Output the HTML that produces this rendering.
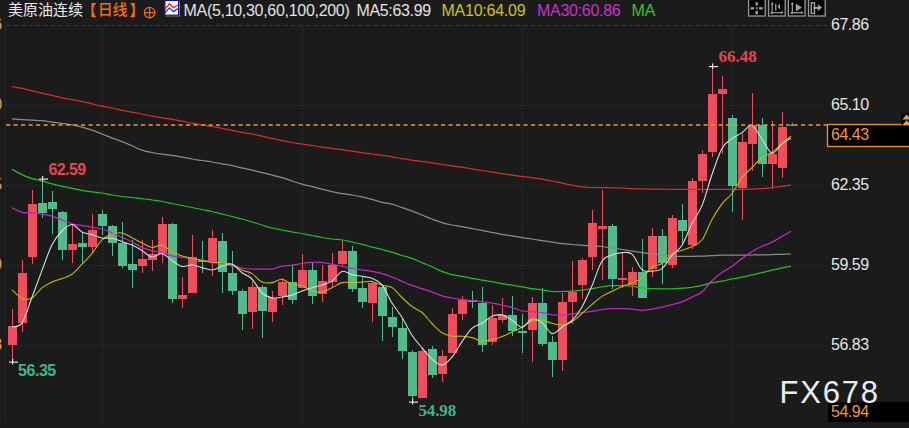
<!DOCTYPE html>
<html><head><meta charset="utf-8">
<style>
html,body{margin:0;padding:0;background:#1b1b1b;}
body{width:909px;height:428px;overflow:hidden;position:relative;font-family:'Liberation Sans', Arial, sans-serif;}
.t{position:absolute;white-space:nowrap;line-height:1;}
svg{position:absolute;left:0;top:0;}
.ax{position:absolute;left:831px;white-space:nowrap;line-height:1;font-size:16px;letter-spacing:-0.5px;color:#e4e4e4;}
</style></head>
<body>
<svg width="909" height="428" viewBox="0 0 909 428">
<rect width="909" height="428" fill="#1b1b1b"/>
<line x1="6" y1="25.5" x2="827" y2="25.5" stroke="#3a3a3a" stroke-width="1" stroke-dasharray="4.2,3.3"/>
<line x1="6" y1="105.5" x2="827" y2="105.5" stroke="#383838" stroke-width="1" stroke-dasharray="1.2,2.53"/>
<line x1="6" y1="185.5" x2="827" y2="185.5" stroke="#383838" stroke-width="1" stroke-dasharray="1.2,2.53"/>
<line x1="6" y1="265.5" x2="827" y2="265.5" stroke="#383838" stroke-width="1" stroke-dasharray="1.2,2.53"/>
<line x1="6" y1="345.5" x2="827" y2="345.5" stroke="#383838" stroke-width="1" stroke-dasharray="1.2,2.53"/>
<line x1="102.5" y1="26" x2="102.5" y2="423" stroke="#383838" stroke-width="1" stroke-dasharray="1.2,2.53"/>
<line x1="302.5" y1="26" x2="302.5" y2="423" stroke="#383838" stroke-width="1" stroke-dasharray="1.2,2.53"/>
<line x1="522.5" y1="26" x2="522.5" y2="423" stroke="#383838" stroke-width="1" stroke-dasharray="1.2,2.53"/>
<line x1="732.5" y1="26" x2="732.5" y2="423" stroke="#383838" stroke-width="1" stroke-dasharray="1.2,2.53"/>
<line x1="5.5" y1="26" x2="5.5" y2="423" stroke="#242424" stroke-width="1"/>
<rect x="12" y="309.0" width="1" height="52.0" fill="#ec4e5e"/>
<rect x="8" y="326.0" width="9" height="19.0" fill="#ec4e5e"/>
<rect x="22" y="260.0" width="1" height="72.0" fill="#ec4e5e"/>
<rect x="18" y="273.0" width="9" height="50.0" fill="#ec4e5e"/>
<rect x="32" y="190.0" width="1" height="74.0" fill="#ec4e5e"/>
<rect x="28" y="204.0" width="9" height="53.0" fill="#ec4e5e"/>
<rect x="42" y="177.0" width="1" height="41.0" fill="#52bb8d"/>
<rect x="38" y="203.0" width="9" height="10.0" fill="#52bb8d"/>
<rect x="52" y="191.0" width="1" height="43.0" fill="#52bb8d"/>
<rect x="48" y="202.0" width="9" height="7.0" fill="#52bb8d"/>
<rect x="62" y="211.0" width="1" height="49.0" fill="#52bb8d"/>
<rect x="58" y="212.0" width="9" height="38.0" fill="#52bb8d"/>
<rect x="72" y="224.0" width="1" height="39.0" fill="#ec4e5e"/>
<rect x="68" y="244.0" width="9" height="6.0" fill="#ec4e5e"/>
<rect x="82" y="232.0" width="1" height="31.0" fill="#52bb8d"/>
<rect x="78" y="243.0" width="9" height="4.0" fill="#52bb8d"/>
<rect x="92" y="214.0" width="1" height="39.0" fill="#ec4e5e"/>
<rect x="88" y="230.0" width="9" height="17.0" fill="#ec4e5e"/>
<rect x="102" y="210.0" width="1" height="25.0" fill="#52bb8d"/>
<rect x="98" y="214.0" width="9" height="12.0" fill="#52bb8d"/>
<rect x="112" y="225.0" width="1" height="31.0" fill="#52bb8d"/>
<rect x="108" y="226.0" width="9" height="17.0" fill="#52bb8d"/>
<rect x="122" y="222.0" width="1" height="46.0" fill="#52bb8d"/>
<rect x="118" y="243.0" width="9" height="23.0" fill="#52bb8d"/>
<rect x="132" y="240.0" width="1" height="48.0" fill="#52bb8d"/>
<rect x="128" y="264.0" width="9" height="6.0" fill="#52bb8d"/>
<rect x="142" y="240.0" width="1" height="33.0" fill="#ec4e5e"/>
<rect x="138" y="259.0" width="9" height="7.0" fill="#ec4e5e"/>
<rect x="152" y="240.0" width="1" height="31.0" fill="#ec4e5e"/>
<rect x="148" y="254.0" width="9" height="6.0" fill="#ec4e5e"/>
<rect x="162" y="217.0" width="1" height="46.0" fill="#ec4e5e"/>
<rect x="158" y="224.0" width="9" height="30.0" fill="#ec4e5e"/>
<rect x="172" y="223.0" width="1" height="80.0" fill="#52bb8d"/>
<rect x="168" y="224.0" width="9" height="75.0" fill="#52bb8d"/>
<rect x="182" y="277.0" width="1" height="31.0" fill="#ec4e5e"/>
<rect x="178" y="295.0" width="9" height="4.0" fill="#ec4e5e"/>
<rect x="192" y="235.0" width="1" height="58.0" fill="#ec4e5e"/>
<rect x="188" y="257.0" width="9" height="36.0" fill="#ec4e5e"/>
<rect x="202" y="241.0" width="1" height="32.0" fill="#52bb8d"/>
<rect x="198" y="260.0" width="9" height="2.0" fill="#52bb8d"/>
<rect x="212" y="230.0" width="1" height="46.0" fill="#ec4e5e"/>
<rect x="208" y="238.0" width="9" height="24.0" fill="#ec4e5e"/>
<rect x="222" y="233.0" width="1" height="60.0" fill="#52bb8d"/>
<rect x="218" y="241.0" width="9" height="31.0" fill="#52bb8d"/>
<rect x="232" y="251.0" width="1" height="44.0" fill="#52bb8d"/>
<rect x="228" y="273.0" width="9" height="18.0" fill="#52bb8d"/>
<rect x="242" y="289.0" width="1" height="41.0" fill="#52bb8d"/>
<rect x="238" y="291.0" width="9" height="23.0" fill="#52bb8d"/>
<rect x="252" y="281.0" width="1" height="48.0" fill="#ec4e5e"/>
<rect x="248" y="287.0" width="9" height="25.0" fill="#ec4e5e"/>
<rect x="262" y="285.0" width="1" height="53.0" fill="#52bb8d"/>
<rect x="258" y="287.0" width="9" height="24.0" fill="#52bb8d"/>
<rect x="272" y="291.0" width="1" height="31.0" fill="#ec4e5e"/>
<rect x="268" y="298.0" width="9" height="14.0" fill="#ec4e5e"/>
<rect x="282" y="278.0" width="1" height="27.0" fill="#ec4e5e"/>
<rect x="278" y="282.0" width="9" height="14.0" fill="#ec4e5e"/>
<rect x="292" y="265.0" width="1" height="39.0" fill="#52bb8d"/>
<rect x="288" y="282.0" width="9" height="18.0" fill="#52bb8d"/>
<rect x="302" y="254.0" width="1" height="34.0" fill="#ec4e5e"/>
<rect x="298" y="270.0" width="9" height="18.0" fill="#ec4e5e"/>
<rect x="312" y="263.0" width="1" height="41.0" fill="#52bb8d"/>
<rect x="308" y="270.0" width="9" height="26.0" fill="#52bb8d"/>
<rect x="322" y="265.0" width="1" height="37.0" fill="#ec4e5e"/>
<rect x="318" y="281.0" width="9" height="13.0" fill="#ec4e5e"/>
<rect x="332" y="253.0" width="1" height="34.0" fill="#ec4e5e"/>
<rect x="328" y="265.0" width="9" height="17.0" fill="#ec4e5e"/>
<rect x="342" y="241.0" width="1" height="24.0" fill="#ec4e5e"/>
<rect x="338" y="251.0" width="9" height="13.0" fill="#ec4e5e"/>
<rect x="352" y="246.0" width="1" height="46.0" fill="#52bb8d"/>
<rect x="348" y="251.0" width="9" height="38.0" fill="#52bb8d"/>
<rect x="362" y="278.0" width="1" height="30.0" fill="#52bb8d"/>
<rect x="358" y="288.0" width="9" height="14.0" fill="#52bb8d"/>
<rect x="372" y="281.0" width="1" height="41.0" fill="#ec4e5e"/>
<rect x="368" y="283.0" width="9" height="20.0" fill="#ec4e5e"/>
<rect x="382" y="286.0" width="1" height="55.0" fill="#52bb8d"/>
<rect x="378" y="287.0" width="9" height="29.0" fill="#52bb8d"/>
<rect x="392" y="307.0" width="1" height="30.0" fill="#52bb8d"/>
<rect x="388" y="317.0" width="9" height="10.0" fill="#52bb8d"/>
<rect x="402" y="318.0" width="1" height="41.0" fill="#52bb8d"/>
<rect x="398" y="328.0" width="9" height="23.0" fill="#52bb8d"/>
<rect x="412" y="350.0" width="1" height="51.0" fill="#52bb8d"/>
<rect x="408" y="352.0" width="9" height="44.0" fill="#52bb8d"/>
<rect x="422" y="347.0" width="1" height="51.0" fill="#ec4e5e"/>
<rect x="418" y="351.0" width="9" height="47.0" fill="#ec4e5e"/>
<rect x="432" y="346.0" width="1" height="32.0" fill="#52bb8d"/>
<rect x="428" y="349.0" width="9" height="26.0" fill="#52bb8d"/>
<rect x="442" y="350.0" width="1" height="32.0" fill="#ec4e5e"/>
<rect x="438" y="356.0" width="9" height="18.0" fill="#ec4e5e"/>
<rect x="452" y="308.0" width="1" height="45.0" fill="#ec4e5e"/>
<rect x="448" y="314.0" width="9" height="39.0" fill="#ec4e5e"/>
<rect x="462" y="296.0" width="1" height="24.0" fill="#ec4e5e"/>
<rect x="458" y="300.0" width="9" height="14.0" fill="#ec4e5e"/>
<rect x="472" y="291.0" width="1" height="17.0" fill="#52bb8d"/>
<rect x="468" y="300.0" width="9" height="2.0" fill="#52bb8d"/>
<rect x="482" y="287.0" width="1" height="65.0" fill="#52bb8d"/>
<rect x="478" y="303.0" width="9" height="42.0" fill="#52bb8d"/>
<rect x="492" y="305.0" width="1" height="40.0" fill="#ec4e5e"/>
<rect x="488" y="318.0" width="9" height="24.0" fill="#ec4e5e"/>
<rect x="502" y="298.0" width="1" height="25.0" fill="#ec4e5e"/>
<rect x="498" y="315.0" width="9" height="5.0" fill="#ec4e5e"/>
<rect x="512" y="296.0" width="1" height="40.0" fill="#52bb8d"/>
<rect x="508" y="315.0" width="9" height="16.0" fill="#52bb8d"/>
<rect x="522" y="314.0" width="1" height="39.0" fill="#52bb8d"/>
<rect x="518" y="331.0" width="9" height="2.0" fill="#52bb8d"/>
<rect x="532" y="297.0" width="1" height="65.0" fill="#ec4e5e"/>
<rect x="528" y="303.0" width="9" height="27.0" fill="#ec4e5e"/>
<rect x="542" y="288.0" width="1" height="58.0" fill="#52bb8d"/>
<rect x="538" y="303.0" width="9" height="41.0" fill="#52bb8d"/>
<rect x="552" y="336.0" width="1" height="41.0" fill="#52bb8d"/>
<rect x="548" y="342.0" width="9" height="18.0" fill="#52bb8d"/>
<rect x="562" y="293.0" width="1" height="78.0" fill="#ec4e5e"/>
<rect x="558" y="302.0" width="9" height="58.0" fill="#ec4e5e"/>
<rect x="572" y="261.0" width="1" height="63.0" fill="#ec4e5e"/>
<rect x="568" y="292.0" width="9" height="10.0" fill="#ec4e5e"/>
<rect x="582" y="258.0" width="1" height="41.0" fill="#ec4e5e"/>
<rect x="578" y="260.0" width="9" height="25.0" fill="#ec4e5e"/>
<rect x="592" y="210.0" width="1" height="60.0" fill="#ec4e5e"/>
<rect x="588" y="223.0" width="9" height="34.0" fill="#ec4e5e"/>
<rect x="602" y="190.0" width="1" height="90.0" fill="#ec4e5e"/>
<rect x="598" y="226.0" width="9" height="3.0" fill="#ec4e5e"/>
<rect x="612" y="224.0" width="1" height="65.0" fill="#52bb8d"/>
<rect x="608" y="226.0" width="9" height="53.0" fill="#52bb8d"/>
<rect x="622" y="253.0" width="1" height="35.0" fill="#ec4e5e"/>
<rect x="618" y="278.0" width="9" height="2.0" fill="#ec4e5e"/>
<rect x="632" y="267.0" width="1" height="29.0" fill="#ec4e5e"/>
<rect x="628" y="272.0" width="9" height="13.0" fill="#ec4e5e"/>
<rect x="642" y="239.0" width="1" height="59.0" fill="#52bb8d"/>
<rect x="638" y="272.0" width="9" height="26.0" fill="#52bb8d"/>
<rect x="652" y="228.0" width="1" height="49.0" fill="#ec4e5e"/>
<rect x="648" y="236.0" width="9" height="33.0" fill="#ec4e5e"/>
<rect x="662" y="229.0" width="1" height="55.0" fill="#52bb8d"/>
<rect x="658" y="236.0" width="9" height="27.0" fill="#52bb8d"/>
<rect x="672" y="215.0" width="1" height="53.0" fill="#ec4e5e"/>
<rect x="668" y="218.0" width="9" height="47.0" fill="#ec4e5e"/>
<rect x="682" y="204.0" width="1" height="41.0" fill="#52bb8d"/>
<rect x="678" y="220.0" width="9" height="11.0" fill="#52bb8d"/>
<rect x="692" y="178.0" width="1" height="71.0" fill="#ec4e5e"/>
<rect x="688" y="181.0" width="9" height="64.0" fill="#ec4e5e"/>
<rect x="702" y="150.0" width="1" height="43.0" fill="#ec4e5e"/>
<rect x="698" y="154.0" width="9" height="27.0" fill="#ec4e5e"/>
<rect x="712" y="66.0" width="1" height="91.0" fill="#ec4e5e"/>
<rect x="708" y="94.0" width="9" height="58.0" fill="#ec4e5e"/>
<rect x="722" y="76.0" width="1" height="78.0" fill="#ec4e5e"/>
<rect x="718" y="89.0" width="9" height="5.0" fill="#ec4e5e"/>
<rect x="732" y="115.0" width="1" height="97.0" fill="#52bb8d"/>
<rect x="728" y="118.0" width="9" height="68.0" fill="#52bb8d"/>
<rect x="742" y="133.0" width="1" height="87.0" fill="#ec4e5e"/>
<rect x="738" y="142.0" width="9" height="46.0" fill="#ec4e5e"/>
<rect x="752" y="93.0" width="1" height="78.0" fill="#ec4e5e"/>
<rect x="748" y="125.0" width="9" height="19.0" fill="#ec4e5e"/>
<rect x="762" y="118.0" width="1" height="59.0" fill="#52bb8d"/>
<rect x="758" y="125.0" width="9" height="39.0" fill="#52bb8d"/>
<rect x="772" y="121.0" width="1" height="68.0" fill="#ec4e5e"/>
<rect x="768" y="154.0" width="9" height="10.0" fill="#ec4e5e"/>
<rect x="782" y="112.0" width="1" height="66.0" fill="#ec4e5e"/>
<rect x="778" y="127.0" width="9" height="41.0" fill="#ec4e5e"/>
<path d="M12.00,86.50 C13.67,86.82 18.67,87.68 22.00,88.40 C25.33,89.12 28.67,90.02 32.00,90.80 C35.33,91.58 38.67,92.35 42.00,93.10 C45.33,93.85 48.67,94.52 52.00,95.30 C55.33,96.08 58.67,97.08 62.00,97.80 C65.33,98.52 68.67,98.98 72.00,99.60 C75.33,100.22 78.67,100.78 82.00,101.50 C85.33,102.22 88.67,103.12 92.00,103.90 C95.33,104.68 98.67,105.52 102.00,106.20 C105.33,106.88 108.67,107.32 112.00,108.00 C115.33,108.68 118.67,109.62 122.00,110.30 C125.33,110.98 128.67,111.48 132.00,112.10 C135.33,112.72 138.67,113.32 142.00,114.00 C145.33,114.68 148.67,115.57 152.00,116.20 C155.33,116.83 158.67,117.28 162.00,117.80 C165.33,118.32 168.67,118.73 172.00,119.30 C175.33,119.87 178.67,120.55 182.00,121.20 C185.33,121.85 188.67,122.60 192.00,123.20 C195.33,123.80 198.67,124.27 202.00,124.80 C205.33,125.33 208.67,125.82 212.00,126.40 C215.33,126.98 218.67,127.63 222.00,128.30 C225.33,128.97 228.67,129.73 232.00,130.40 C235.33,131.07 238.67,131.70 242.00,132.30 C245.33,132.90 248.67,133.35 252.00,134.00 C255.33,134.65 258.67,135.47 262.00,136.20 C265.33,136.93 268.67,137.67 272.00,138.40 C275.33,139.13 278.67,139.92 282.00,140.60 C285.33,141.28 288.67,141.93 292.00,142.50 C295.33,143.07 298.67,143.50 302.00,144.00 C305.33,144.50 308.67,144.97 312.00,145.50 C315.33,146.03 318.67,146.72 322.00,147.20 C325.33,147.68 328.67,147.98 332.00,148.40 C335.33,148.82 338.67,149.23 342.00,149.70 C345.33,150.17 348.67,150.70 352.00,151.20 C355.33,151.70 358.67,152.23 362.00,152.70 C365.33,153.17 368.67,153.57 372.00,154.00 C375.33,154.43 378.67,154.83 382.00,155.30 C385.33,155.77 388.67,156.23 392.00,156.80 C395.33,157.37 398.67,158.13 402.00,158.70 C405.33,159.27 408.67,159.73 412.00,160.20 C415.33,160.67 418.67,161.07 422.00,161.50 C425.33,161.93 428.67,162.30 432.00,162.80 C435.33,163.30 438.67,164.00 442.00,164.50 C445.33,165.00 448.67,165.35 452.00,165.80 C455.33,166.25 458.67,166.68 462.00,167.20 C465.33,167.72 468.67,168.35 472.00,168.90 C475.33,169.45 478.67,169.97 482.00,170.50 C485.33,171.03 488.67,171.58 492.00,172.10 C495.33,172.62 498.67,173.08 502.00,173.60 C505.33,174.12 508.67,174.73 512.00,175.20 C515.33,175.67 518.67,176.00 522.00,176.40 C525.33,176.80 528.67,177.13 532.00,177.60 C535.33,178.07 538.67,178.63 542.00,179.20 C545.33,179.77 548.67,180.33 552.00,181.00 C555.33,181.67 558.67,182.50 562.00,183.20 C565.33,183.90 568.67,184.60 572.00,185.20 C575.33,185.80 578.67,186.42 582.00,186.80 C585.33,187.18 588.67,187.37 592.00,187.50 C595.33,187.63 598.67,187.55 602.00,187.60 C605.33,187.65 608.67,187.73 612.00,187.80 C615.33,187.87 618.67,187.87 622.00,188.00 C625.33,188.13 628.67,188.45 632.00,188.60 C635.33,188.75 638.67,188.82 642.00,188.90 C645.33,188.98 648.67,189.05 652.00,189.10 C655.33,189.15 658.67,189.17 662.00,189.20 C665.33,189.23 668.67,189.27 672.00,189.30 C675.33,189.33 678.67,189.38 682.00,189.40 C685.33,189.42 688.67,189.40 692.00,189.40 C695.33,189.40 698.67,189.40 702.00,189.40 C705.33,189.40 708.67,189.40 712.00,189.40 C715.33,189.40 718.67,189.40 722.00,189.40 C725.33,189.40 728.67,189.40 732.00,189.40 C735.33,189.40 738.67,189.43 742.00,189.40 C745.33,189.37 748.67,189.33 752.00,189.20 C755.33,189.07 758.67,188.88 762.00,188.60 C765.33,188.32 768.67,187.88 772.00,187.50 C775.33,187.12 778.83,186.68 782.00,186.30 C785.17,185.92 789.50,185.38 791.00,185.20" fill="none" stroke="#dc2c2c" stroke-width="1.25" stroke-linejoin="round"/>
<path d="M12.00,118.90 C13.67,119.02 18.67,119.38 22.00,119.60 C25.33,119.82 28.67,120.02 32.00,120.20 C35.33,120.38 38.67,120.38 42.00,120.70 C45.33,121.02 48.67,121.65 52.00,122.10 C55.33,122.55 58.67,122.93 62.00,123.40 C65.33,123.87 68.67,124.28 72.00,124.90 C75.33,125.52 78.67,126.23 82.00,127.10 C85.33,127.97 88.67,128.95 92.00,130.10 C95.33,131.25 98.67,132.70 102.00,134.00 C105.33,135.30 108.67,136.62 112.00,137.90 C115.33,139.18 118.67,140.38 122.00,141.70 C125.33,143.02 128.67,144.38 132.00,145.80 C135.33,147.22 138.67,149.08 142.00,150.20 C145.33,151.32 148.67,151.83 152.00,152.50 C155.33,153.17 158.67,153.72 162.00,154.20 C165.33,154.68 168.67,154.92 172.00,155.40 C175.33,155.88 178.67,156.50 182.00,157.10 C185.33,157.70 188.67,158.43 192.00,159.00 C195.33,159.57 198.67,160.00 202.00,160.50 C205.33,161.00 208.67,161.45 212.00,162.00 C215.33,162.55 218.67,163.18 222.00,163.80 C225.33,164.42 228.67,165.02 232.00,165.70 C235.33,166.38 238.67,167.15 242.00,167.90 C245.33,168.65 248.67,169.42 252.00,170.20 C255.33,170.98 258.67,171.80 262.00,172.60 C265.33,173.40 268.67,174.15 272.00,175.00 C275.33,175.85 278.67,176.70 282.00,177.70 C285.33,178.70 288.67,179.92 292.00,181.00 C295.33,182.08 298.67,183.27 302.00,184.20 C305.33,185.13 308.67,185.77 312.00,186.60 C315.33,187.43 318.67,188.37 322.00,189.20 C325.33,190.03 328.67,190.87 332.00,191.60 C335.33,192.33 338.67,193.03 342.00,193.60 C345.33,194.17 348.67,194.47 352.00,195.00 C355.33,195.53 358.67,196.07 362.00,196.80 C365.33,197.53 368.67,198.47 372.00,199.40 C375.33,200.33 378.67,201.60 382.00,202.40 C385.33,203.20 388.67,203.33 392.00,204.20 C395.33,205.07 398.67,206.45 402.00,207.60 C405.33,208.75 408.67,209.87 412.00,211.10 C415.33,212.33 418.67,213.68 422.00,215.00 C425.33,216.32 428.67,217.73 432.00,219.00 C435.33,220.27 438.67,221.60 442.00,222.60 C445.33,223.60 448.67,224.33 452.00,225.00 C455.33,225.67 458.67,226.00 462.00,226.60 C465.33,227.20 468.67,227.97 472.00,228.60 C475.33,229.23 478.67,229.77 482.00,230.40 C485.33,231.03 488.67,231.75 492.00,232.40 C495.33,233.05 498.67,233.72 502.00,234.30 C505.33,234.88 508.67,235.35 512.00,235.90 C515.33,236.45 518.67,237.08 522.00,237.60 C525.33,238.12 528.67,238.50 532.00,239.00 C535.33,239.50 538.67,240.07 542.00,240.60 C545.33,241.13 548.67,241.70 552.00,242.20 C555.33,242.70 558.67,243.22 562.00,243.60 C565.33,243.98 568.67,244.23 572.00,244.50 C575.33,244.77 578.67,244.95 582.00,245.20 C585.33,245.45 588.67,245.78 592.00,246.00 C595.33,246.22 598.67,246.18 602.00,246.50 C605.33,246.82 608.67,247.40 612.00,247.90 C615.33,248.40 618.67,248.95 622.00,249.50 C625.33,250.05 628.67,250.68 632.00,251.20 C635.33,251.72 638.67,252.20 642.00,252.60 C645.33,253.00 648.67,253.17 652.00,253.60 C655.33,254.03 658.67,254.78 662.00,255.20 C665.33,255.62 668.67,255.90 672.00,256.10 C675.33,256.30 678.67,256.35 682.00,256.40 C685.33,256.45 688.67,256.43 692.00,256.40 C695.33,256.37 698.67,256.33 702.00,256.20 C705.33,256.07 708.67,255.77 712.00,255.60 C715.33,255.43 718.67,255.28 722.00,255.20 C725.33,255.12 728.67,255.12 732.00,255.10 C735.33,255.08 738.67,255.12 742.00,255.10 C745.33,255.08 748.67,255.03 752.00,255.00 C755.33,254.97 758.67,254.97 762.00,254.90 C765.33,254.83 768.67,254.70 772.00,254.60 C775.33,254.50 778.83,254.40 782.00,254.30 C785.17,254.20 789.50,254.05 791.00,254.00" fill="none" stroke="#8c8c8c" stroke-width="1.25" stroke-linejoin="round"/>
<path d="M12.00,169.30 C13.67,170.18 18.67,173.03 22.00,174.60 C25.33,176.17 28.67,177.65 32.00,178.70 C35.33,179.75 38.67,180.03 42.00,180.90 C45.33,181.77 48.67,183.02 52.00,183.90 C55.33,184.78 58.67,185.45 62.00,186.20 C65.33,186.95 68.67,187.72 72.00,188.40 C75.33,189.08 78.67,189.73 82.00,190.30 C85.33,190.87 88.67,191.35 92.00,191.80 C95.33,192.25 98.67,192.47 102.00,193.00 C105.33,193.53 108.67,194.42 112.00,195.00 C115.33,195.58 118.67,196.08 122.00,196.50 C125.33,196.92 128.67,197.17 132.00,197.50 C135.33,197.83 138.67,198.08 142.00,198.50 C145.33,198.92 148.67,199.50 152.00,200.00 C155.33,200.50 158.67,200.92 162.00,201.50 C165.33,202.08 168.67,202.83 172.00,203.50 C175.33,204.17 178.67,204.83 182.00,205.50 C185.33,206.17 188.67,206.83 192.00,207.50 C195.33,208.17 198.67,208.83 202.00,209.50 C205.33,210.17 208.67,210.75 212.00,211.50 C215.33,212.25 218.67,213.17 222.00,214.00 C225.33,214.83 228.67,215.67 232.00,216.50 C235.33,217.33 238.67,218.08 242.00,219.00 C245.33,219.92 248.67,221.00 252.00,222.00 C255.33,223.00 258.67,224.00 262.00,225.00 C265.33,226.00 268.67,227.17 272.00,228.00 C275.33,228.83 278.67,229.33 282.00,230.00 C285.33,230.67 288.67,231.42 292.00,232.00 C295.33,232.58 298.67,232.92 302.00,233.50 C305.33,234.08 308.67,234.83 312.00,235.50 C315.33,236.17 318.67,236.92 322.00,237.50 C325.33,238.08 328.67,238.58 332.00,239.00 C335.33,239.42 338.67,239.50 342.00,240.00 C345.33,240.50 348.67,241.28 352.00,242.00 C355.33,242.72 358.67,243.45 362.00,244.30 C365.33,245.15 368.67,246.23 372.00,247.10 C375.33,247.97 378.67,248.67 382.00,249.50 C385.33,250.33 388.67,251.10 392.00,252.10 C395.33,253.10 398.67,254.47 402.00,255.50 C405.33,256.53 408.67,257.12 412.00,258.30 C415.33,259.48 418.67,261.20 422.00,262.60 C425.33,264.00 428.67,265.23 432.00,266.70 C435.33,268.17 438.67,270.08 442.00,271.40 C445.33,272.72 448.67,273.77 452.00,274.60 C455.33,275.43 458.67,275.78 462.00,276.40 C465.33,277.02 468.67,277.67 472.00,278.30 C475.33,278.93 478.67,279.63 482.00,280.20 C485.33,280.77 488.67,281.13 492.00,281.70 C495.33,282.27 498.67,283.02 502.00,283.60 C505.33,284.18 508.67,284.67 512.00,285.20 C515.33,285.73 518.67,286.22 522.00,286.80 C525.33,287.38 528.67,288.18 532.00,288.70 C535.33,289.22 538.67,289.43 542.00,289.90 C545.33,290.37 548.67,291.23 552.00,291.50 C555.33,291.77 558.67,291.55 562.00,291.50 C565.33,291.45 568.67,291.45 572.00,291.20 C575.33,290.95 578.67,290.43 582.00,290.00 C585.33,289.57 588.67,289.12 592.00,288.60 C595.33,288.08 598.67,287.38 602.00,286.90 C605.33,286.42 608.67,285.90 612.00,285.70 C615.33,285.50 618.67,285.62 622.00,285.70 C625.33,285.78 628.67,285.80 632.00,286.20 C635.33,286.60 638.67,287.70 642.00,288.10 C645.33,288.50 648.67,288.48 652.00,288.60 C655.33,288.72 658.67,288.75 662.00,288.80 C665.33,288.85 668.67,289.00 672.00,288.90 C675.33,288.80 678.67,288.47 682.00,288.20 C685.33,287.93 688.67,287.77 692.00,287.30 C695.33,286.83 698.67,286.18 702.00,285.40 C705.33,284.62 708.67,283.30 712.00,282.60 C715.33,281.90 718.67,281.82 722.00,281.20 C725.33,280.58 728.67,279.57 732.00,278.90 C735.33,278.23 738.67,277.87 742.00,277.20 C745.33,276.53 748.67,275.67 752.00,274.90 C755.33,274.13 758.67,273.38 762.00,272.60 C765.33,271.82 768.67,270.98 772.00,270.20 C775.33,269.42 778.83,268.55 782.00,267.90 C785.17,267.25 789.50,266.57 791.00,266.30" fill="none" stroke="#1fc01f" stroke-width="1.25" stroke-linejoin="round"/>
<path d="M12.00,207.70 C13.67,208.47 18.67,211.47 22.00,212.30 C25.33,213.13 28.67,212.38 32.00,212.70 C35.33,213.02 38.67,213.63 42.00,214.20 C45.33,214.77 48.67,215.13 52.00,216.10 C55.33,217.07 58.67,218.72 62.00,220.00 C65.33,221.28 68.67,222.87 72.00,223.80 C75.33,224.73 78.67,225.07 82.00,225.60 C85.33,226.13 88.67,226.43 92.00,227.00 C95.33,227.57 98.67,228.03 102.00,229.00 C105.33,229.97 108.67,231.40 112.00,232.80 C115.33,234.20 118.67,235.88 122.00,237.40 C125.33,238.92 128.67,240.23 132.00,241.90 C135.33,243.57 138.67,245.93 142.00,247.40 C145.33,248.87 148.67,249.87 152.00,250.70 C155.33,251.53 158.67,251.53 162.00,252.40 C165.33,253.27 168.67,255.07 172.00,255.90 C175.33,256.73 178.67,257.00 182.00,257.40 C185.33,257.80 188.67,257.83 192.00,258.30 C195.33,258.77 198.67,259.67 202.00,260.20 C205.33,260.73 208.67,260.97 212.00,261.50 C215.33,262.03 218.67,262.62 222.00,263.40 C225.33,264.18 228.67,265.43 232.00,266.20 C235.33,266.97 238.67,267.53 242.00,268.00 C245.33,268.47 248.67,268.83 252.00,269.00 C255.33,269.17 258.67,269.00 262.00,269.00 C265.33,269.00 268.67,269.47 272.00,269.00 C275.33,268.53 278.67,266.83 282.00,266.20 C285.33,265.57 288.67,265.65 292.00,265.20 C295.33,264.75 298.67,263.97 302.00,263.50 C305.33,263.03 308.67,262.58 312.00,262.40 C315.33,262.22 318.67,262.08 322.00,262.40 C325.33,262.72 328.67,263.65 332.00,264.30 C335.33,264.95 338.67,265.60 342.00,266.30 C345.33,267.00 348.67,267.88 352.00,268.50 C355.33,269.12 358.67,269.52 362.00,270.00 C365.33,270.48 368.67,270.78 372.00,271.40 C375.33,272.02 378.67,272.77 382.00,273.70 C385.33,274.63 388.67,275.73 392.00,277.00 C395.33,278.27 398.67,279.90 402.00,281.30 C405.33,282.70 408.67,284.17 412.00,285.40 C415.33,286.63 418.67,287.62 422.00,288.70 C425.33,289.78 428.67,290.72 432.00,291.90 C435.33,293.08 438.67,294.78 442.00,295.80 C445.33,296.82 448.67,297.40 452.00,298.00 C455.33,298.60 458.67,298.95 462.00,299.40 C465.33,299.85 468.67,300.32 472.00,300.70 C475.33,301.08 478.67,301.28 482.00,301.70 C485.33,302.12 488.67,302.65 492.00,303.20 C495.33,303.75 498.67,304.30 502.00,305.00 C505.33,305.70 508.67,306.40 512.00,307.40 C515.33,308.40 518.67,310.30 522.00,311.00 C525.33,311.70 528.67,311.32 532.00,311.60 C535.33,311.88 538.67,312.17 542.00,312.70 C545.33,313.23 548.67,314.40 552.00,314.80 C555.33,315.20 558.67,315.25 562.00,315.10 C565.33,314.95 568.67,314.32 572.00,313.90 C575.33,313.48 578.67,313.02 582.00,312.60 C585.33,312.18 588.67,311.90 592.00,311.40 C595.33,310.90 598.67,310.07 602.00,309.60 C605.33,309.13 608.67,308.77 612.00,308.60 C615.33,308.43 618.67,308.52 622.00,308.60 C625.33,308.68 628.67,308.82 632.00,309.10 C635.33,309.38 638.67,310.30 642.00,310.30 C645.33,310.30 648.67,309.62 652.00,309.10 C655.33,308.58 658.67,307.95 662.00,307.20 C665.33,306.45 668.67,305.50 672.00,304.60 C675.33,303.70 678.67,303.05 682.00,301.80 C685.33,300.55 688.67,298.73 692.00,297.10 C695.33,295.47 698.67,294.73 702.00,292.00 C705.33,289.27 708.67,283.93 712.00,280.70 C715.33,277.47 718.67,275.00 722.00,272.60 C725.33,270.20 728.67,268.63 732.00,266.30 C735.33,263.97 738.67,261.07 742.00,258.60 C745.33,256.13 748.67,253.57 752.00,251.50 C755.33,249.43 758.67,247.75 762.00,246.20 C765.33,244.65 768.67,243.83 772.00,242.20 C775.33,240.57 778.83,238.23 782.00,236.40 C785.17,234.57 789.50,232.07 791.00,231.20" fill="none" stroke="#c427c4" stroke-width="1.25" stroke-linejoin="round"/>
<path d="M12.00,289.80 C13.67,291.23 18.67,297.03 22.00,298.40 C25.33,299.77 28.67,299.75 32.00,298.00 C35.33,296.25 38.67,290.57 42.00,287.90 C45.33,285.23 48.67,283.55 52.00,282.00 C55.33,280.45 58.67,279.90 62.00,278.60 C65.33,277.30 68.67,276.60 72.00,274.20 C75.33,271.80 78.67,267.63 82.00,264.20 C85.33,260.77 88.67,257.67 92.00,253.60 C95.33,249.53 98.67,243.02 102.00,239.80 C105.33,236.58 108.67,235.43 112.00,234.30 C115.33,233.17 118.67,232.43 122.00,233.00 C125.33,233.57 128.67,236.03 132.00,237.70 C135.33,239.37 138.67,241.37 142.00,243.00 C145.33,244.63 148.67,247.13 152.00,247.50 C155.33,247.87 158.67,244.53 162.00,245.20 C165.33,245.87 168.67,249.70 172.00,251.50 C175.33,253.30 178.67,254.87 182.00,256.00 C185.33,257.13 188.67,257.55 192.00,258.30 C195.33,259.05 198.67,259.82 202.00,260.50 C205.33,261.18 208.67,262.02 212.00,262.40 C215.33,262.78 218.67,262.48 222.00,262.80 C225.33,263.12 228.67,263.12 232.00,264.30 C235.33,265.48 238.67,268.35 242.00,269.90 C245.33,271.45 248.67,271.57 252.00,273.60 C255.33,275.63 258.67,280.60 262.00,282.10 C265.33,283.60 268.67,283.07 272.00,282.60 C275.33,282.13 278.67,278.98 282.00,279.30 C285.33,279.62 288.67,283.47 292.00,284.50 C295.33,285.53 298.67,284.45 302.00,285.50 C305.33,286.55 308.67,289.72 312.00,290.80 C315.33,291.88 318.67,292.52 322.00,292.00 C325.33,291.48 328.67,289.27 332.00,287.70 C335.33,286.13 338.67,283.45 342.00,282.60 C345.33,281.75 348.67,282.68 352.00,282.60 C355.33,282.52 358.67,282.28 362.00,282.10 C365.33,281.92 368.67,280.98 372.00,281.50 C375.33,282.02 378.67,284.20 382.00,285.20 C385.33,286.20 388.67,285.45 392.00,287.50 C395.33,289.55 398.67,294.33 402.00,297.50 C405.33,300.67 408.67,304.00 412.00,306.50 C415.33,309.00 418.67,309.67 422.00,312.50 C425.33,315.33 428.67,320.13 432.00,323.50 C435.33,326.87 438.67,330.58 442.00,332.70 C445.33,334.82 448.67,335.62 452.00,336.20 C455.33,336.78 458.67,335.97 462.00,336.20 C465.33,336.43 468.67,336.80 472.00,337.60 C475.33,338.40 478.67,340.67 482.00,341.00 C485.33,341.33 488.67,340.33 492.00,339.60 C495.33,338.87 498.67,337.88 502.00,336.60 C505.33,335.32 508.67,333.47 512.00,331.90 C515.33,330.33 518.67,329.03 522.00,327.20 C525.33,325.37 528.67,322.07 532.00,320.90 C535.33,319.73 538.67,319.80 542.00,320.20 C545.33,320.60 548.67,322.52 552.00,323.30 C555.33,324.08 558.67,325.15 562.00,324.90 C565.33,324.65 568.67,323.70 572.00,321.80 C575.33,319.90 578.67,316.40 582.00,313.50 C585.33,310.60 588.67,307.25 592.00,304.40 C595.33,301.55 598.67,298.60 602.00,296.40 C605.33,294.20 608.67,292.85 612.00,291.20 C615.33,289.55 618.67,287.90 622.00,286.50 C625.33,285.10 628.67,284.23 632.00,282.80 C635.33,281.37 638.67,280.48 642.00,277.90 C645.33,275.32 648.67,269.70 652.00,267.30 C655.33,264.90 658.67,265.72 662.00,263.50 C665.33,261.28 668.67,256.20 672.00,254.00 C675.33,251.80 678.67,251.55 682.00,250.30 C685.33,249.05 688.67,248.22 692.00,246.50 C695.33,244.78 698.67,244.50 702.00,240.00 C705.33,235.50 708.67,225.53 712.00,219.50 C715.33,213.47 718.67,208.13 722.00,203.80 C725.33,199.47 728.67,197.88 732.00,193.50 C735.33,189.12 738.67,181.82 742.00,177.50 C745.33,173.18 748.67,170.93 752.00,167.60 C755.33,164.27 758.67,160.02 762.00,157.50 C765.33,154.98 768.67,154.83 772.00,152.50 C775.33,150.17 778.83,146.25 782.00,143.50 C785.17,140.75 789.50,137.25 791.00,136.00" fill="none" stroke="#c4ba00" stroke-width="1.1" stroke-linejoin="round"/>
<path d="M12.00,326.90 C13.67,326.23 18.67,327.85 22.00,322.90 C25.33,317.95 28.67,305.95 32.00,297.20 C35.33,288.45 38.67,279.15 42.00,270.40 C45.33,261.65 48.67,251.27 52.00,244.70 C55.33,238.13 58.67,234.37 62.00,231.00 C65.33,227.63 68.67,224.33 72.00,224.50 C75.33,224.67 78.67,230.32 82.00,232.00 C85.33,233.68 88.67,233.60 92.00,234.60 C95.33,235.60 98.67,237.38 102.00,238.00 C105.33,238.62 108.67,237.72 112.00,238.30 C115.33,238.88 118.67,240.38 122.00,241.50 C125.33,242.62 128.67,243.50 132.00,245.00 C135.33,246.50 138.67,248.50 142.00,250.50 C145.33,252.50 148.67,256.48 152.00,257.00 C155.33,257.52 158.67,253.02 162.00,253.60 C165.33,254.18 168.67,258.37 172.00,260.50 C175.33,262.63 178.67,265.67 182.00,266.40 C185.33,267.13 188.67,264.70 192.00,264.90 C195.33,265.10 198.67,266.75 202.00,267.60 C205.33,268.45 208.67,270.23 212.00,270.00 C215.33,269.77 218.67,267.15 222.00,266.20 C225.33,265.25 228.67,263.22 232.00,264.30 C235.33,265.38 238.67,270.25 242.00,272.70 C245.33,275.15 248.67,275.62 252.00,279.00 C255.33,282.38 258.67,289.85 262.00,293.00 C265.33,296.15 268.67,297.23 272.00,297.90 C275.33,298.57 278.67,297.47 282.00,297.00 C285.33,296.53 288.67,296.10 292.00,295.10 C295.33,294.10 298.67,292.23 302.00,291.00 C305.33,289.77 308.67,288.72 312.00,287.70 C315.33,286.68 318.67,286.00 322.00,284.90 C325.33,283.80 328.67,283.35 332.00,281.10 C335.33,278.85 338.67,272.48 342.00,271.40 C345.33,270.32 348.67,273.77 352.00,274.60 C355.33,275.43 358.67,275.78 362.00,276.40 C365.33,277.02 368.67,276.88 372.00,278.30 C375.33,279.72 378.67,280.78 382.00,284.90 C385.33,289.02 388.67,297.60 392.00,303.00 C395.33,308.40 398.67,311.93 402.00,317.30 C405.33,322.67 408.67,330.12 412.00,335.20 C415.33,340.28 418.67,343.80 422.00,347.80 C425.33,351.80 428.67,356.32 432.00,359.20 C435.33,362.08 438.67,365.43 442.00,365.10 C445.33,364.77 448.67,361.12 452.00,357.20 C455.33,353.28 458.67,346.42 462.00,341.60 C465.33,336.78 468.67,331.35 472.00,328.30 C475.33,325.25 478.67,325.32 482.00,323.30 C485.33,321.28 488.67,317.60 492.00,316.20 C495.33,314.80 498.67,314.23 502.00,314.90 C505.33,315.57 508.67,318.15 512.00,320.20 C515.33,322.25 518.67,327.38 522.00,327.20 C525.33,327.02 528.67,319.87 532.00,319.10 C535.33,318.33 538.67,320.18 542.00,322.60 C545.33,325.02 548.67,332.83 552.00,333.60 C555.33,334.37 558.67,329.38 562.00,327.20 C565.33,325.02 568.67,323.88 572.00,320.50 C575.33,317.12 578.67,312.70 582.00,306.90 C585.33,301.10 588.67,293.35 592.00,285.70 C595.33,278.05 598.67,266.13 602.00,261.00 C605.33,255.87 608.67,256.30 612.00,254.90 C615.33,253.50 618.67,252.72 622.00,252.60 C625.33,252.48 628.67,251.35 632.00,254.20 C635.33,257.05 638.67,266.88 642.00,269.70 C645.33,272.52 648.67,271.28 652.00,271.10 C655.33,270.92 658.67,271.20 662.00,268.60 C665.33,266.00 668.67,259.40 672.00,255.50 C675.33,251.60 678.67,250.53 682.00,245.20 C685.33,239.87 688.67,230.10 692.00,223.50 C695.33,216.90 698.67,213.77 702.00,205.60 C705.33,197.43 708.67,184.02 712.00,174.50 C715.33,164.98 718.67,154.48 722.00,148.50 C725.33,142.52 728.67,141.25 732.00,138.60 C735.33,135.95 738.67,134.77 742.00,132.60 C745.33,130.43 748.67,124.50 752.00,125.60 C755.33,126.70 758.67,134.60 762.00,139.20 C765.33,143.80 768.67,152.42 772.00,153.20 C775.33,153.98 778.83,146.43 782.00,143.90 C785.17,141.37 789.50,138.98 791.00,138.00" fill="none" stroke="#dcdcdc" stroke-width="1.1" stroke-linejoin="round"/>
<line x1="6" y1="125" x2="827" y2="125" stroke="#e89a2e" stroke-width="1.4" stroke-dasharray="4.2,3.3"/>
<rect x="39" y="178.5" width="9" height="1.2" fill="#e8e8e8"/>
<rect x="42" y="175.9" width="1.2" height="5.6" fill="#e8e8e8"/>
<rect x="709" y="66" width="9" height="1.2" fill="#e8e8e8"/>
<rect x="712" y="63.4" width="1.2" height="5.6" fill="#e8e8e8"/>
<rect x="9" y="361.5" width="9" height="1.2" fill="#e8e8e8"/>
<rect x="12" y="358.9" width="1.2" height="5.6" fill="#e8e8e8"/>
<rect x="409" y="401.5" width="9" height="1.2" fill="#e8e8e8"/>
<rect x="412" y="398.9" width="1.2" height="5.6" fill="#e8e8e8"/>
<polygon points="790.5,126 794.5,126 792.5,122.5" fill="#3fb887"/>

<!-- toolbar buttons -->
<g>
<rect x="748.6" y="-0.6" width="16.6" height="16.6" fill="#000" stroke="#979797" stroke-width="1.3"/>
<rect x="768.6" y="-0.6" width="16.6" height="16.6" fill="#000" stroke="#979797" stroke-width="1.3"/>
<rect x="788.4" y="-0.6" width="16.6" height="16.6" fill="#000" stroke="#979797" stroke-width="1.3"/>
<rect x="808.6" y="-0.6" width="16.6" height="16.6" fill="#000" stroke="#979797" stroke-width="1.3"/>
<g fill="#a4a4a4">
<rect x="755.6" y="2.2" width="2.3" height="3.3"/>
<rect x="755.6" y="10.9" width="2.3" height="3.3"/>
<rect x="750.6" y="7.2" width="3.4" height="2.3"/>
<rect x="759.1" y="7.2" width="3.6" height="2.3"/>
<rect x="755.6" y="7.2" width="2.3" height="2.3" fill="#7a7a7a"/>
</g>
<g stroke="#a4a4a4" stroke-width="1.2" fill="#a4a4a4">
<line x1="772.2" y1="3" x2="772.2" y2="13.5"/>
<line x1="771" y1="12.7" x2="782.5" y2="12.7"/>
<polygon points="772.2,2 770.6,4.4 773.8,4.4" stroke="none"/>
<polygon points="783.4,12.7 781.2,11.1 781.2,14.3" stroke="none"/>
<polygon points="770.2,13.6 771.4,11.4 772.6,14.2" stroke="none"/>
<rect x="775.1" y="3.7" width="1.3" height="7" stroke="none"/>
<polygon points="777.4,6.6 780,3.8 780,9.4" stroke="none"/>
<line x1="792.3" y1="3" x2="792.3" y2="13.5"/>
<line x1="791" y1="12.7" x2="802.6" y2="12.7"/>
<polygon points="792.3,2 790.7,4.4 793.9,4.4" stroke="none"/>
<polygon points="803.5,12.7 801.3,11.1 801.3,14.3" stroke="none"/>
<polygon points="790.3,13.6 791.5,11.4 792.7,14.2" stroke="none"/>
<polygon points="795.8,3.7 795.8,11.5 802,7.6" stroke="none"/>
</g>
<rect x="811.3" y="2.8" width="3.2" height="10.6" fill="none" stroke="#a4a4a4" stroke-width="1.4"/>
<rect x="813.5" y="6.9" width="5" height="2" fill="#a4a4a4"/>
<polygon points="818,4.2 818,11 822,7.6" fill="#a4a4a4"/>
</g>
<!-- price box -->
<rect x="827.5" y="124.5" width="90" height="22" fill="#000" stroke="#e8922a" stroke-width="1.4"/>
<rect x="828" y="402" width="81" height="20" fill="#000"/>
<rect x="901.5" y="113.5" width="8" height="11.5" fill="#000"/>
<polygon points="902.3,119.6 911.1,119.6 906.7,114.6" fill="#f0a038"/>
<polygon points="902.3,125.2 911.1,125.2 906.7,120.2" fill="#f0a038"/>

<!-- header icon -->
<rect x="165.5" y="1.5" width="14.5" height="15" fill="#7a7a7a"/>
<rect x="164.9" y="0.5" width="13.6" height="14.6" fill="#fff" stroke="#10107a" stroke-width="1.1"/>
<polyline points="165,9 169.5,3.8 173.5,7.8 177.8,5" fill="none" stroke="#f02020" stroke-width="1.3"/>
<polyline points="165,12.5 169.5,7.8 173.5,11.6 177.8,8.6" fill="none" stroke="#2030f0" stroke-width="1.3"/>
<!-- circle plus -->
<circle cx="149.6" cy="12.6" r="5.2" fill="none" stroke="#f07010" stroke-width="1.2"/>
<line x1="144.4" y1="12.6" x2="154.8" y2="12.6" stroke="#f07010" stroke-width="1.2"/>
<line x1="149.6" y1="7.4" x2="149.6" y2="17.8" stroke="#f07010" stroke-width="1.2"/>
</svg>

<div class="t" style="left:8px;top:2px;font-size:15px;font-weight:400;color:#ececec;font-family:'Liberation Sans', 'Noto Sans CJK SC', sans-serif;">美原油连续</div>
<div class="t" style="left:81.5px;top:2.5px;font-size:15px;font-weight:700;color:#f07010;font-family:'Liberation Sans', 'Noto Sans CJK SC', sans-serif;">【</div>
<div class="t" style="left:97.7px;top:2px;font-size:15px;font-weight:500;color:#f07010;font-family:'Liberation Sans', 'Noto Sans CJK SC', sans-serif;">日</div>
<div class="t" style="left:112.5px;top:2px;font-size:15px;font-weight:500;color:#f07010;font-family:'Liberation Sans', 'Noto Sans CJK SC', sans-serif;">线</div>
<div class="t" style="left:129.5px;top:2.5px;font-size:15px;font-weight:700;color:#f07010;font-family:'Liberation Sans', 'Noto Sans CJK SC', sans-serif;">】</div>
<div class="t" style="left:183.5px;top:2.6px;font-size:16px;letter-spacing:-0.3px;color:#e2e2e2;">MA(5,10,30,60,100,200)</div>
<div class="t" style="left:356.5px;top:2.6px;font-size:16px;letter-spacing:-0.35px;color:#e2e2e2;">MA5:63.99</div>
<div class="t" style="left:441.5px;top:2.6px;font-size:16px;letter-spacing:-0.25px;color:#cdc41c;">MA10:64.09</div>
<div class="t" style="left:537px;top:2.6px;font-size:16px;letter-spacing:-0.28px;color:#c832c8;">MA30:60.86</div>
<div class="t" style="left:631.5px;top:2.6px;font-size:16px;color:#2ec82e;">MA</div>


<div class="ax" style="left:-35.8px;top:16.8px;color:#d49a58;">67.86</div>
<div class="ax" style="left:-35.8px;top:96.8px;color:#d49a58;">65.10</div>
<div class="ax" style="left:-35.8px;top:176.8px;color:#d49a58;">62.35</div>
<div class="ax" style="left:-35.8px;top:256.8px;color:#d49a58;">59.59</div>
<div class="ax" style="left:-35.8px;top:336.8px;color:#d49a58;">56.83</div>
<div class="ax" style="top:16.8px;">67.86</div>
<div class="ax" style="top:96.8px;">65.10</div>
<div class="ax" style="top:176.8px;">62.35</div>
<div class="ax" style="top:256.8px;">59.59</div>
<div class="ax" style="top:336.8px;">56.83</div>
<div class="ax" style="top:127.4px;color:#ee9a35;">64.43</div>
<div class="ax" style="top:403.8px;color:#ee9a35;">54.94</div>

<div class="t" style="left:48.5px;top:161.6px;font-size:16px;letter-spacing:-0.6px;font-weight:bold;color:#e84552;">62.59</div>
<div class="t" style="left:718.5px;top:48px;font-size:17px;letter-spacing:0px;font-weight:bold;color:#e84552;font-family:'Liberation Serif', 'Times New Roman', serif;">66.48</div>
<div class="t" style="left:18px;top:363px;font-size:16px;letter-spacing:-0.45px;font-weight:bold;color:#40b585;">56.35</div>
<div class="t" style="left:418.5px;top:401.5px;font-size:17px;letter-spacing:-0.15px;font-weight:bold;color:#40b585;font-family:'Liberation Serif', 'Times New Roman', serif;">54.98</div>

<div class="t" style="left:779.5px;top:377px;font-size:31px;color:#eaeef8;letter-spacing:1.8px;">FX678</div>
</body></html>
